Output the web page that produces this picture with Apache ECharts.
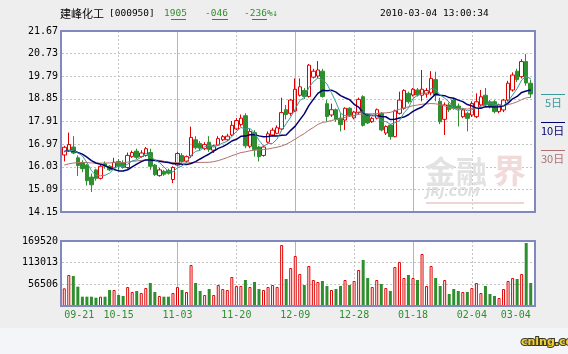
<!DOCTYPE html>
<html>
<head>
<meta charset="utf-8">
<script src="https://cdn.jsdelivr.net/npm/echarts@6/dist/echarts.min.js"></script>
<style>
  html, body { margin: 0; padding: 0; background: #eeeeee; }
  #main { width: 568px; height: 354px; }
</style>
</head>
<body>
<div id="main"></div>
<script>
// trading days shown on the chart (month, days)
const tradingDays = [
  ['09', [21, 22, 23, 24, 25, 28, 29, 30]],
  ['10', [9, 12, 13, 14, 15, 16, 19, 20, 21, 22, 23, 26, 27, 28, 29, 30]],
  ['11', [2, 3, 4, 5, 6, 9, 10, 11, 12, 13, 16, 17, 18, 19, 20, 23, 24, 25, 26, 27, 30]],
  ['12', [1, 2, 3, 4, 7, 8, 9, 10, 11, 14, 15, 16, 17, 18, 21, 22, 23, 24, 25, 28, 29, 30, 31]],
  ['01', [5, 6, 7, 8, 11, 12, 13, 14, 15, 18, 19, 20, 21, 22, 25, 26, 27, 28, 29]],
  ['02', [1, 2, 3, 4, 5, 8, 9, 10, 22, 23, 24, 25, 26]],
  ['03', [1, 2, 3, 4]]
];
const dates = [];
tradingDays.forEach(([m, days]) => days.forEach(d => dates.push(m + '-' + String(d).padStart(2, '0'))));

const xLabels = ['09-21', '10-15', '11-03', '11-20', '12-09', '12-28', '01-18', '02-04', '03-04'];
const dashedAt = ['10-15', '11-20', '12-28', '02-04'];
const solidAt = ['11-03', '12-09', '01-18'];
const priceTicks = ['14.15', '15.09', '16.03', '16.97', '17.91', '18.85', '19.79', '20.73', '21.67'];
const volumeTicks = ['', '56506', '113013', '169520'];

const opens = [
  16.52, 16.70, 16.85, 16.40, 16.20, 16.10, 15.60, 15.90, 15.55, 16.15,
  16.05, 15.98, 16.25, 16.20, 16.00, 16.45, 16.68, 16.45, 16.50, 16.62,
  16.10, 15.66, 15.84, 15.88, 15.50, 16.10, 16.50, 16.26, 16.48, 17.15,
  17.00, 16.78, 17.05, 16.72, 16.93, 17.15, 17.15, 17.35, 17.60, 17.78,
  18.15, 16.88, 17.45, 16.85, 16.50, 17.05, 17.35, 17.42, 17.60, 18.40,
  18.25, 18.35, 19.00, 19.20, 18.95, 19.75, 19.80, 20.00, 18.65, 18.18,
  18.40, 18.05, 17.97, 18.46, 18.06, 18.28, 18.94, 18.20, 17.90, 18.05,
  18.25, 17.43, 17.76, 17.28, 18.25, 18.46, 19.08, 19.01, 19.22, 19.00,
  19.05, 19.10, 19.65, 18.75, 18.00, 18.60, 18.80, 18.55, 18.11, 18.25,
  18.18, 18.11, 18.60, 19.00, 18.73, 18.73, 18.32, 18.39, 18.80, 19.22,
  20.00, 19.77, 20.40, 19.50
];
const closes = [
  16.84, 16.95, 16.60, 16.08, 15.95, 15.45, 15.28, 15.55, 16.05, 16.05,
  15.90, 16.22, 16.05, 16.00, 16.50, 16.62, 16.42, 16.60, 16.78, 16.05,
  15.70, 15.90, 15.72, 15.76, 16.00, 16.58, 16.25, 16.45, 17.25, 16.82,
  16.80, 16.95, 16.75, 16.90, 17.20, 17.28, 17.30, 17.75, 17.95, 18.05,
  16.90, 17.50, 16.75, 16.45, 16.85, 17.40, 17.55, 17.65, 18.28, 18.20,
  18.80, 19.25, 19.35, 18.95, 20.25, 20.00, 20.05, 18.95, 18.12, 18.40,
  18.00, 17.78, 18.46, 18.18, 18.30, 18.83, 17.75, 17.85, 18.04, 18.40,
  17.56, 17.70, 17.28, 18.35, 18.80, 19.20, 18.73, 19.25, 19.01, 19.25,
  19.20, 19.70, 19.00, 17.90, 18.60, 18.40, 18.46, 18.45, 18.39, 18.04,
  18.66, 18.73, 18.94, 18.60, 18.53, 18.32, 18.60, 18.80, 19.50, 19.84,
  19.65, 20.40, 19.51, 19.05
];
const lows = [
  16.25, 16.65, 16.55, 15.65, 15.80, 15.25, 14.98, 15.45, 15.50, 15.95,
  15.85, 15.95, 15.85, 15.95, 15.95, 16.40, 16.35, 16.40, 16.45, 15.90,
  15.65, 15.62, 15.65, 15.70, 15.35, 16.05, 16.20, 16.20, 16.40, 16.75,
  16.70, 16.72, 16.65, 16.60, 16.90, 17.10, 17.10, 17.30, 17.55, 17.70,
  16.80, 16.80, 16.45, 16.25, 16.45, 17.00, 17.30, 17.38, 17.55, 18.00,
  18.15, 18.30, 18.95, 18.85, 18.90, 19.70, 19.70, 18.90, 17.90, 18.10,
  17.90, 17.50, 17.56, 18.10, 18.00, 18.20, 17.70, 17.80, 17.85, 18.00,
  17.50, 17.35, 17.15, 17.25, 18.20, 18.40, 18.65, 18.95, 18.95, 18.75,
  18.90, 19.00, 18.75, 17.80, 17.35, 18.30, 18.40, 17.70, 18.05, 17.50,
  18.10, 18.05, 18.55, 18.50, 18.45, 18.25, 18.25, 18.30, 18.75, 19.15,
  19.55, 19.70, 19.40, 18.90
];
const highs = [
  16.90, 17.45, 17.30, 16.50, 16.30, 16.15, 15.75, 15.95, 16.10, 16.25,
  16.10, 16.40, 16.35, 16.30, 16.62, 16.70, 16.78, 16.72, 16.85, 16.78,
  16.15, 15.98, 15.90, 15.95, 16.05, 16.65, 16.60, 16.50, 17.70, 17.30,
  17.10, 17.05, 17.30, 16.95, 17.30, 17.35, 17.40, 17.93, 18.05, 18.20,
  18.25, 17.60, 17.55, 16.90, 16.90, 17.50, 17.65, 17.75, 18.90, 18.60,
  18.85, 19.70, 19.70, 19.30, 20.30, 20.10, 20.42, 20.10, 18.80, 18.65,
  18.45, 18.25, 18.50, 18.50, 18.35, 18.90, 19.00, 18.25, 18.10, 18.45,
  18.30, 17.75, 17.80, 18.40, 19.15, 19.25, 19.15, 19.30, 19.30, 20.05,
  19.30, 20.00, 19.98, 18.90, 18.70, 18.70, 18.90, 18.66, 18.45, 18.30,
  18.75, 19.08, 19.22, 19.30, 18.80, 18.80, 18.65, 18.85, 19.60, 19.95,
  20.10, 20.50, 20.71, 19.65
];
const volumes = [
  46100, 80900, 78200, 50400, 24300, 24300, 24300, 21700, 24300, 24300,
  41700, 41700, 28700, 26100, 49600, 36500, 39100, 33900, 46900, 60000,
  36500, 26100, 24300, 24300, 33900, 49600, 41700, 36500, 106900, 60000,
  39100, 28700, 44300, 28700, 54800, 44300, 41700, 75600, 52200, 52200,
  67800, 49600, 62600, 44300, 41700, 49600, 54800, 49600, 159100, 70400,
  99100, 130400, 83500, 54800, 104300, 67800, 62600, 65200, 52200, 41700,
  44300, 52200, 67800, 54800, 65200, 93900, 120000, 73000, 49600, 67800,
  57400, 46900, 39100, 101700, 114800, 73000, 80900, 73000, 67800, 135600,
  52200, 104300, 73000, 52200, 67800, 31300, 44300, 39100, 36500, 36500,
  46900, 60000, 33900, 52200, 31300, 26100, 20900, 44300, 65200, 73000,
  70400, 83500, 164300, 60000
];
// estimated closes before the first day shown, only used to seed the moving averages
const priorCloses = [
  15.50, 15.60, 15.45, 15.70, 15.80, 15.65, 15.90, 16.00, 15.85, 15.75,
  15.90, 16.10, 16.00, 15.85, 15.70, 15.80, 15.95, 16.05, 16.10, 15.80,
  16.50, 16.70, 16.80, 16.65, 16.70, 16.70, 16.55, 16.60, 16.56
];

const RED = '#e00000';
const GREEN = '#2f8f2f';
const MONO = '"DejaVu Sans Mono", monospace';
const CJK = '"Noto Sans CJK SC", sans-serif';

const allCloses = priorCloses.concat(closes);
function movingAverage(n) {
  return closes.map((_, i) => {
    const end = i + priorCloses.length;
    let sum = 0;
    for (let k = end - n + 1; k <= end; k++) sum += allCloses[k];
    return +(sum / n).toFixed(3);
  });
}

const candleData = dates.map((_, i) => [opens[i], closes[i], lows[i], highs[i]]);
const volumeData = volumes.map((v, i) => ({
  value: v,
  itemStyle: closes[i] >= opens[i]
    ? { color: '#ffffff', borderColor: RED, borderWidth: 1 }
    : { color: GREEN, borderWidth: 0 }
}));

const gridLine = { color: '#c4c4c4', type: [2, 2], width: 1 };
const solidLine = { color: '#b4b4b4', type: 'solid', width: 1 };

function dateAxis(gridIndex, splitAt, lineStyle, position, label) {
  return {
    type: 'category', gridIndex: gridIndex, data: dates, position: position,
    boundaryGap: true,
    axisLine: { show: false }, axisTick: { show: false },
    axisLabel: label || { show: false },
    splitLine: {
      show: true, alignWithLabel: true,
      interval: (i, v) => splitAt.indexOf(v) >= 0,
      lineStyle: lineStyle
    }
  };
}
function tickAxis(gridIndex, ticks) {
  return {
    type: 'category', gridIndex: gridIndex, data: ticks, boundaryGap: false,
    position: 'left',
    axisLine: { show: false }, axisTick: { show: false },
    axisLabel: { interval: 0, margin: 4, color: '#000', fontFamily: MONO, fontSize: 10 },
    splitLine: { show: true, interval: 0, lineStyle: gridLine }
  };
}

const chart = echarts.init(document.getElementById('main'));
const option = {
  animation: false,
  backgroundColor: '#eeeeee',
  grid: [
    { left: 62, width: 471, top: 31, height: 181 },
    { left: 62, width: 471, top: 241, height: 65 }
  ],
  xAxis: [
    dateAxis(0, dashedAt, gridLine, 'bottom'),
    dateAxis(0, solidAt, solidLine, 'top'),
    dateAxis(1, dashedAt, gridLine, 'bottom', {
      show: true, margin: 4, color: GREEN, fontFamily: MONO, fontSize: 10,
      interval: (i, v) => xLabels.indexOf(v) >= 0,
      alignMinLabel: 'left', alignMaxLabel: 'right'
    }),
    dateAxis(1, solidAt, solidLine, 'top')
  ],
  yAxis: [
    { type: 'value', gridIndex: 0, min: 14.15, max: 21.67, show: false, position: 'right' },
    tickAxis(0, priceTicks),
    { type: 'value', gridIndex: 1, min: 0, max: 169520, show: false, position: 'right' },
    tickAxis(1, volumeTicks)
  ],
  graphic: [
    // plot backgrounds and the page's lower band
    { type: 'rect', z: -5, shape: { x: 0, y: 328, width: 568, height: 26 }, style: { fill: '#f3f5f8' } },
    { type: 'rect', z: -1, shape: { x: 61, y: 31, width: 474, height: 181 }, style: { fill: '#ffffff' } },
    { type: 'rect', z: -1, shape: { x: 61, y: 241, width: 474, height: 65 }, style: { fill: '#ffffff' } },
    // frames
    { type: 'rect', z: 100, shape: { x: 61, y: 31, width: 474, height: 181 }, style: { fill: 'none', stroke: '#8088bd', lineWidth: 2 } },
    { type: 'rect', z: 100, shape: { x: 61, y: 241, width: 474, height: 65 }, style: { fill: 'none', stroke: '#8088bd', lineWidth: 2 } },
    // header
    { type: 'text', left: 60, top: 8, style: { text: '建峰化工', font: '11px ' + CJK, fill: '#000' } },
    { type: 'text', left: 109, top: 9, style: { text: '[000950]', font: '9.5px ' + MONO, fill: '#000' } },
    { type: 'text', left: 164, top: 9, style: { text: '1905', font: '9.5px ' + MONO, fill: GREEN } },
    { type: 'text', left: 205, top: 9, style: { text: '-046', font: '9.5px ' + MONO, fill: GREEN } },
    { type: 'text', left: 244, top: 9, style: { text: '-236%↓', font: '9.5px ' + MONO, fill: GREEN } },
    { type: 'line', shape: { x1: 171, y1: 19.5, x2: 186, y2: 19.5 }, style: { stroke: GREEN, lineWidth: 1 } },
    { type: 'line', shape: { x1: 212, y1: 19.5, x2: 228, y2: 19.5 }, style: { stroke: GREEN, lineWidth: 1 } },
    { type: 'line', shape: { x1: 252, y1: 19.5, x2: 267, y2: 19.5 }, style: { stroke: GREEN, lineWidth: 1 } },
    { type: 'text', left: 380, top: 9, style: { text: '2010-03-04 13:00:34', font: '9.5px ' + MONO, fill: '#000' } },
    // legend
    { type: 'line', shape: { x1: 541, y1: 94.5, x2: 565, y2: 94.5 }, style: { stroke: '#3a9a9a', lineWidth: 1 } },
    { type: 'text', left: 545, top: 97, style: { text: '5日', font: '11px ' + CJK, fill: '#3a9a9a' } },
    { type: 'line', shape: { x1: 541, y1: 122.5, x2: 565, y2: 122.5 }, style: { stroke: '#000070', lineWidth: 1 } },
    { type: 'text', left: 541, top: 125, style: { text: '10日', font: '11px ' + CJK, fill: '#000070' } },
    { type: 'line', shape: { x1: 541, y1: 150.5, x2: 565, y2: 150.5 }, style: { stroke: '#b07070', lineWidth: 1 } },
    { type: 'text', left: 541, top: 153, style: { text: '30日', font: '11px ' + CJK, fill: '#b07070' } },
    // watermark
    { type: 'text', z: 1, left: 425, top: 156, style: { text: '金融', font: 'bold 31px ' + CJK, fill: '#e2e2e2' } },
    { type: 'text', z: 1, left: 493, top: 154, style: { text: '界', font: 'bold 33px ' + CJK, fill: '#f1dada' } },
    { type: 'text', z: 1, left: 426, top: 187, style: { text: 'JRJ.COM', font: 'italic bold 12px "DejaVu Sans", sans-serif', fill: '#dedede' } },
    { type: 'line', z: 1, shape: { x1: 426, y1: 203, x2: 524, y2: 203 }, style: { stroke: '#f0d4d4', lineWidth: 2 } },
    // corner logo
    { type: 'text', left: 520, top: 336, style: { text: 'cnlng.com', font: 'bold 11px "DejaVu Sans", sans-serif', fill: '#f2d03a', stroke: '#3a3a20', lineWidth: 2 } }
  ],
  series: [
    {
      name: 'K', type: 'candlestick', xAxisIndex: 0, yAxisIndex: 0,
      data: candleData, barWidth: 4,
      itemStyle: { color: 'transparent', color0: GREEN, borderColor: RED, borderColor0: GREEN, borderWidth: 1 }
    },
    {
      name: 'MA30', type: 'line', xAxisIndex: 0, yAxisIndex: 0, data: movingAverage(30),
      symbol: 'none', smooth: false, lineStyle: { color: '#b07070', width: 1 }
    },
    {
      name: 'MA10', type: 'line', xAxisIndex: 0, yAxisIndex: 0, data: movingAverage(10),
      symbol: 'none', smooth: false, lineStyle: { color: '#000070', width: 1.5 }
    },
    {
      name: 'MA5', type: 'line', xAxisIndex: 0, yAxisIndex: 0, data: movingAverage(5),
      symbol: 'none', smooth: false, lineStyle: { color: '#3a9a9a', width: 1 }
    },
    {
      name: 'VOL', type: 'bar', xAxisIndex: 2, yAxisIndex: 2,
      data: volumeData, barWidth: 3
    }
  ]
};
chart.setOption(option);
</script>
</body>
</html>
